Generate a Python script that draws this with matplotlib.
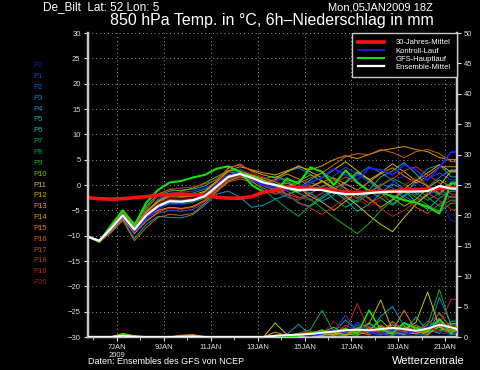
import numpy as np
import matplotlib
matplotlib.use("Agg")
import matplotlib.pyplot as plt

plt.rcParams['font.family'] = ['Liberation Sans', 'DejaVu Sans']

# time axis: hours after 05JAN2009 18Z, 12h steps
hours = np.arange(0, 385, 12)

# 850 hPa temperature (deg C), ensemble members P0..P20
t_members = [
    [-10.2, -11.1, -8.9, -6.3, -9.3, -6.6, -4.8, -3.8, -3.9, -3.4, -2.6, -0.8, 1.2, 2.0, 1.5, 0.8, 0.2, -0.5, -1.5, -2.3, -1.8, -0.6, 0.4, -1.0, -2.5, -1.8, 0.5, 1.8, 0.6, -1.5, -3.0, -7.0, -7.5],
    [-10.1, -10.9, -8.4, -5.8, -8.5, -5.6, -2.8, -1.6, -1.4, -1.2, -0.6, 0.6, 2.6, 3.2, 2.0, 1.0, 0.8, 1.5, 0.2, -1.2, -0.4, 1.8, 3.5, 2.2, 0.6, -1.0, -2.4, -1.5, 0.3, 1.2, 2.4, 1.0, 1.0],
    [-10.3, -11.2, -9.0, -6.6, -9.5, -6.9, -5.6, -5.0, -5.2, -4.8, -3.6, -1.0, 1.0, 1.8, 1.0, -0.2, -1.2, -2.4, -3.0, -1.8, -0.2, -1.0, -2.6, -3.4, -1.6, 0.2, -0.6, -2.2, -3.6, -2.0, -0.8, -2.5, -2.5],
    [-10.2, -11.0, -8.3, -5.5, -8.2, -5.3, -3.0, -1.8, -2.0, -1.6, -0.8, 0.2, 2.0, 2.4, 1.1, 0.3, 1.2, 2.6, 3.4, 2.1, 0.8, -0.5, 0.5, 2.0, 3.6, 2.4, 1.0, -0.8, -2.0, -0.4, 1.5, 3.0, 3.0],
    [-10.2, -11.3, -9.3, -6.8, -10.6, -7.8, -6.2, -6.4, -6.5, -5.8, -4.0, -1.8, -1.2, -2.4, -4.4, -4.0, -2.8, -2.0, -0.8, -1.6, -3.2, -2.0, 0.4, 2.4, 1.0, -1.4, -3.8, -2.0, 0.8, 3.2, 4.0, 1.6, 1.6],
    [-10.1, -10.9, -8.6, -5.9, -8.7, -5.8, -3.9, -2.9, -3.0, -2.8, -2.0, -0.2, 1.8, 2.6, 1.8, 0.9, -0.2, -1.8, -3.6, -4.2, -2.6, -1.2, -3.0, -5.2, -3.8, -1.6, 0.2, -1.0, -3.4, -4.8, -2.6, -1.2, -1.2],
    [-10.2, -10.9, -8.2, -5.2, -8.0, -4.6, -2.2, -1.2, -1.0, -0.8, -0.2, 1.2, 2.6, 2.2, 1.6, 1.2, 1.8, 0.8, -0.6, 1.0, 2.4, 1.2, -0.8, -2.6, -1.0, 1.6, 2.8, 4.4, 2.2, -0.4, -2.0, 0.6, 0.6],
    [-10.3, -11.1, -8.5, -6.0, -8.9, -6.1, -4.3, -3.3, -3.4, -3.1, -2.3, -0.4, 1.5, 2.3, 1.3, 0.4, -0.8, -2.0, -1.0, 0.6, -0.6, -2.8, -4.4, -3.0, -1.2, -2.6, -4.0, -2.2, -0.6, -2.4, -4.2, -3.0, -3.0],
    [-10.2, -11.0, -8.8, -6.2, -9.1, -6.4, -4.6, -3.6, -3.7, -3.4, -2.6, -0.7, 1.3, 2.0, 0.8, -1.0, -2.8, -4.6, -6.2, -4.0, -2.2, -0.8, -2.0, -3.4, -1.8, 0.0, 1.4, 0.2, -1.6, -3.0, -1.6, -2.4, -2.4],
    [-10.1, -11.0, -8.6, -6.0, -8.8, -5.9, -4.0, -3.0, -3.1, -2.8, -2.0, -0.1, 1.9, 2.5, 1.7, 0.7, 0.0, -0.8, -1.6, -2.8, -4.6, -6.4, -8.0, -9.6, -7.6, -5.0, -3.0, -1.2, -2.4, -4.0, -5.2, -3.6, -3.6],
    [-10.2, -11.0, -8.1, -5.0, -7.6, -4.2, -1.8, -0.9, -1.2, -0.6, 0.4, 1.6, 2.8, 2.8, 2.0, 1.4, 0.6, -0.4, 0.8, 2.0, 0.8, -1.0, 0.6, 2.6, 1.2, -0.8, -2.6, -4.2, -2.8, -0.6, 1.0, -0.4, -0.4],
    [-10.3, -11.0, -8.6, -6.1, -8.8, -6.0, -4.2, -3.2, -3.3, -3.0, -2.2, -0.4, 1.6, 2.4, 1.8, 1.0, 0.2, -0.6, -1.4, -0.4, 0.8, -0.6, -2.2, -4.0, -6.0, -7.8, -9.2, -6.4, -3.8, -1.8, -0.2, 2.8, 2.8],
    [-10.2, -10.9, -8.3, -5.6, -8.3, -5.2, -3.2, -2.0, -2.2, -2.0, -1.2, 0.8, 3.4, 4.0, 2.8, 2.0, 1.4, 2.6, 3.8, 2.6, 1.4, 3.0, 4.6, 2.8, 1.0, 2.4, 4.2, 2.6, 0.8, 2.4, 4.0, 2.6, 2.6],
    [-10.1, -11.0, -8.7, -6.2, -9.0, -6.2, -5.0, -4.4, -4.7, -4.2, -3.0, -0.5, 1.5, 2.3, 1.5, 0.6, -0.2, 0.4, -0.6, -2.2, -3.4, -5.0, -3.2, -1.4, -2.6, -4.4, -2.8, -0.8, 1.0, -0.2, -1.6, 0.2, 0.2],
    [-10.2, -11.0, -8.4, -5.8, -8.5, -5.5, -3.4, -2.3, -2.4, -2.2, -1.4, 0.5, 2.8, 3.6, 3.0, 2.4, 2.0, 2.8, 3.6, 3.0, 3.8, 5.0, 5.8, 5.2, 6.0, 6.8, 7.2, 7.6, 7.0, 6.6, 5.4, 5.0, 5.0],
    [-10.3, -11.2, -9.1, -6.6, -9.6, -7.2, -5.4, -4.4, -4.6, -4.4, -3.2, -1.2, 0.8, 1.6, 1.0, 0.4, 1.0, 2.2, 1.2, -0.4, 0.6, 1.4, 0.2, -1.0, 0.6, 2.2, 3.4, 1.8, 0.4, 1.8, 3.6, 3.6, 3.6],
    [-10.2, -11.3, -9.4, -7.0, -11.0, -8.4, -6.4, -5.8, -6.0, -5.6, -3.6, -1.4, 0.6, 1.2, 0.6, -0.6, -1.8, -0.8, 0.4, 1.4, 2.4, 4.0, 5.6, 6.2, 6.0, 7.0, 6.4, 5.4, 6.6, 7.0, 6.2, 4.6, 4.6],
    [-10.2, -11.0, -8.6, -5.9, -8.7, -5.9, -4.0, -3.0, -3.2, -2.9, -2.1, -0.2, 1.7, 2.3, 1.2, 0.0, -1.0, -1.8, -2.6, -1.6, -0.4, 1.0, -0.6, -2.0, -3.6, -2.4, -1.0, -2.6, -4.4, -5.6, -3.8, -2.2, -2.2],
    [-10.1, -10.9, -8.2, -5.5, -8.1, -5.0, -2.0, -0.8, -0.6, -0.4, 0.2, 1.0, 3.2, 4.2, 2.6, 1.2, 0.0, -1.2, -2.4, -3.0, -1.6, 0.2, 1.6, 0.4, -1.2, -0.2, 1.2, 2.8, 3.6, 2.0, 0.4, -1.8, -1.8],
    [-10.2, -11.1, -8.8, -6.3, -9.2, -6.5, -5.2, -4.6, -4.8, -4.4, -3.2, -0.9, 1.1, 1.8, 1.0, 0.2, -0.6, -2.0, -3.4, -4.6, -5.8, -4.2, -2.6, -1.0, -2.8, -4.6, -6.2, -5.0, -3.2, -1.6, -3.0, -4.8, -4.8],
    [-10.2, -11.0, -8.5, -5.9, -8.6, -5.7, -3.7, -2.7, -2.8, -2.6, -1.8, 0.3, 2.4, 3.0, 2.2, 1.6, 0.8, 0.0, -1.0, 0.2, 1.6, 0.6, -1.2, -2.8, -4.2, -3.0, -1.6, 0.0, 1.4, 0.0, -1.4, -3.2, -3.2],
]
t_control = [-10.2, -11.0, -8.8, -6.2, -9.2, -6.5, -4.6, -3.2, -3.5, -3.0, -2.0, 0.0, 1.8, 2.5, 1.2, 0.0, -0.5, -1.0, -0.5, 0.5, 1.5, 3.2, 2.0, 1.0, 3.3, 3.0, 2.0, 4.0, 3.0, 1.0, 3.5, 6.5, 6.5]
t_main = [-10.0, -11.2, -8.0, -5.0, -8.0, -3.5, -1.0, 0.5, 0.8, 1.5, 2.0, 3.2, 3.7, 2.6, 0.0, -1.4, -1.2, 1.2, 0.3, 3.5, 2.6, 0.0, 2.9, 0.5, -1.2, -1.5, -2.2, -3.0, -3.5, -4.3, -5.6, 0.3, 0.3]
t_mean = [-10.2, -11.0, -8.6, -6.0, -8.8, -6.0, -4.2, -3.2, -3.3, -3.0, -2.2, -0.3, 1.6, 2.2, 1.4, 0.5, 0.0, -0.6, -1.0, -0.9, -1.0, -1.5, -1.8, -1.8, -1.6, -1.4, -1.3, -1.3, -1.3, -1.2, -0.2, -0.7, -0.8]
t_climate = [-2.5, -2.7, -2.8, -2.7, -2.5, -2.3, -2.0, -1.9, -1.8, -1.9, -2.0, -2.4, -2.6, -2.6, -2.3, -1.4, -1.1, -0.4, -0.5, -0.7, -0.8, -1.1, -1.4, -1.5, -1.4, -1.3, -1.2, -1.0, -0.9, -0.8, -0.7, -0.6, -0.6]

# 6h precipitation (mm), members P0..P20
p_members = [
    [0, 0, 0, 0, 0, 0, 0, 0, 0, 0, 0, 0, 0, 0, 0, 0, 0, 0.1, 0.2, 0.3, 0.5, 0.2, 0.8, 1.4, 0.6, 0.3, 1.0, 0.4, 0.2, 1.8, 2.6, 0.9, 0.9],
    [0, 0, 0, 0, 0, 0, 0, 0, 0, 0, 0, 0, 0, 0, 0, 0, 0, 0, 0.3, 0.2, 0.6, 1.0, 3.6, 0.8, 0.4, 1.2, 0.6, 0.3, 0.8, 1.4, 0.7, 0.4, 0.4],
    [0, 0, 0, 0, 0, 0, 0, 0, 0, 0, 0, 0, 0, 0, 0, 0, 0, 0, 0, 0.2, 0.4, 0.3, 1.2, 0.5, 1.8, 0.6, 0.2, 1.1, 0.5, 0.3, 2.2, 1.0, 1.0],
    [0, 0, 0, 0, 0, 0, 0, 0, 0, 0, 0, 0, 0, 0, 0, 0, 0, 0, 0.2, 0.4, 0.2, 0.8, 0.3, 1.6, 0.7, 0.4, 2.4, 0.9, 1.2, 0.6, 6.5, 2.0, 2.0],
    [0, 0, 0, 0, 0, 0, 0, 0, 0, 0, 0, 0, 0, 0, 0, 0, 0.1, 0.4, 2.1, 0.3, 0.5, 0.8, 2.8, 1.0, 0.6, 3.4, 5.0, 1.8, 0.8, 1.2, 0.6, 2.6, 2.6],
    [0, 0, 0, 0, 0, 0, 0, 0, 0, 0, 0, 0, 0, 0, 0, 0, 0, 0, 0.2, 0.8, 0.3, 0.4, 1.4, 0.6, 2.2, 0.8, 1.6, 0.9, 3.3, 1.0, 2.2, 0.8, 0.8],
    [0, 0, 0, 0, 0, 0, 0, 0, 0, 0, 0, 0, 0, 0, 0, 0, 0, 0.1, 0, 0.3, 0.6, 0.4, 0.2, 1.2, 0.5, 1.6, 0.7, 2.4, 0.6, 0.9, 4.0, 1.4, 1.4],
    [0, 0, 0, 0.3, 0.1, 0, 0, 0, 0, 0, 0, 0, 0, 0, 0, 0, 0, 0.2, 0.6, 1.2, 4.4, 0.8, 0.3, 0.6, 1.5, 0.4, 1.2, 0.5, 2.0, 0.8, 1.6, 0.5, 0.5],
    [0, 0, 0, 0.3, 0.1, 0, 0, 0, 0, 0, 0, 0, 0, 0, 0, 0, 0, 0, 0.3, 0.5, 1.0, 0.6, 0.4, 2.0, 0.8, 1.6, 0.5, 1.9, 0.7, 2.6, 1.2, 0.6, 0.6],
    [0, 0, 0, 0, 0, 0, 0, 0, 0, 0, 0, 0, 0, 0, 0, 0, 0, 0, 0.2, 0.2, 0.6, 0.3, 1.0, 0.5, 2.4, 1.0, 0.4, 1.4, 0.8, 2.0, 7.8, 1.8, 1.8],
    [0, 0, 0, 0.5, 0.2, 0, 0, 0, 0, 0, 0, 0, 0, 0, 0, 0, 0, 0.3, 0.1, 0.4, 0.8, 1.6, 0.5, 0.3, 1.1, 2.8, 0.9, 0.4, 1.6, 1.0, 3.0, 1.2, 1.2],
    [0, 0, 0, 0, 0, 0, 0, 0, 0, 0, 0, 0, 0, 0, 0, 0, 2.3, 0.4, 0.2, 0.6, 0.3, 0.9, 0.4, 1.2, 0.6, 1.8, 0.8, 1.2, 2.4, 7.4, 1.6, 0.9, 0.9],
    [0, 0, 0, 0, 0, 0, 0, 0, 0, 0, 0, 0, 0, 0, 0, 0, 0.8, 0.2, 0.3, 0.5, 1.2, 0.4, 0.7, 1.4, 2.2, 6.1, 1.0, 0.6, 1.3, 0.8, 2.8, 1.0, 1.0],
    [0, 0, 0, 0, 0, 0, 0, 0, 0.2, 0.3, 0, 0, 0, 0, 0, 0, 0, 0.2, 0.5, 0.3, 0.4, 1.0, 0.6, 0.8, 0.4, 1.2, 2.0, 0.8, 0.5, 1.6, 1.0, 2.2, 2.2],
    [0, 0, 0, 0.6, 0.2, 0, 0, 0, 0, 0, 0, 0, 0, 0, 0, 0, 0, 0.1, 0.4, 1.0, 0.6, 0.3, 0.9, 0.6, 1.4, 0.8, 0.5, 1.6, 0.9, 0.4, 1.8, 0.7, 0.7],
    [0, 0, 0, 0.5, 0.1, 0, 0, 0, 0.3, 0.4, 0, 0, 0, 0, 0, 0, 0, 0.2, 0.6, 0.4, 0.9, 0.5, 1.3, 0.8, 0.6, 1.5, 1.1, 4.4, 1.0, 0.7, 2.4, 1.1, 1.1],
    [0, 0, 0, 0.2, 0, 0, 0, 0, 0.2, 0.3, 0.1, 0, 0, 0, 0, 0, 0, 0, 0.3, 0.7, 0.4, 1.1, 0.5, 0.9, 1.6, 0.6, 1.3, 0.8, 1.9, 0.9, 2.0, 0.6, 0.6],
    [0, 0, 0, 0, 0, 0, 0, 0, 0, 0, 0, 0, 0, 0, 0, 0, 0.3, 0.5, 0.2, 0.9, 0.5, 0.7, 1.5, 0.6, 1.0, 0.8, 2.6, 1.0, 0.7, 1.4, 1.9, 1.3, 1.3],
    [0, 0, 0, 0, 0, 0, 0, 0, 0, 0, 0, 0, 0, 0, 0, 0, 0, 0.2, 0.4, 0.3, 1.0, 0.6, 1.9, 1.1, 0.5, 2.0, 0.9, 1.5, 0.6, 2.2, 3.8, 1.6, 1.6],
    [0, 0, 0, 0, 0, 0, 0, 0, 0, 0, 0, 0, 0, 0, 0, 0, 0, 0.1, 0.3, 0.6, 0.8, 1.2, 1.0, 5.5, 1.2, 0.7, 1.5, 0.8, 1.1, 0.9, 2.0, 6.2, 6.2],
    [0, 0, 0, 0, 0, 0, 0, 0, 0, 0, 0, 0, 0, 0, 0, 0, 0, 0.2, 0.5, 1.0, 0.6, 2.6, 0.8, 1.3, 0.5, 0.9, 0.6, 1.2, 0.8, 1.5, 1.0, 0.6, 0.6],
]
p_control = [0, 0, 0, 0, 0, 0, 0, 0, 0, 0, 0, 0, 0, 0, 0, 0, 0, 0.1, 0.3, 0.2, 0.5, 1.2, 0.6, 2.4, 0.8, 0.5, 1.1, 0.6, 0.9, 1.6, 2.2, 0.8, 0.8]
p_main = [0, 0, 0, 0.4, 0.1, 0, 0, 0, 0, 0, 0, 0, 0, 0, 0, 0, 0, 0, 0.2, 0.6, 1.0, 0.7, 1.4, 0.5, 4.4, 1.2, 0.6, 2.3, 1.5, 0.8, 3.0, 0.5, 3.0]
p_mean = [0, 0, 0, 0.2, 0.05, 0, 0, 0, 0.05, 0.1, 0, 0, 0, 0, 0, 0, 0.2, 0.3, 0.4, 0.5, 0.7, 0.9, 1.1, 1.2, 1.1, 1.3, 1.5, 1.3, 1.0, 1.4, 2.0, 1.6, 1.0]

member_names = ['P%d' % i for i in range(21)]
member_colors = ['#1414c8', '#1e3cdc', '#1464dc', '#0a82d2', '#00a0c8', '#00b4b4', '#00c096',
                 '#00b464', '#00a03c', '#14b414', '#64c800', '#c8c800', '#d2b400', '#dca000',
                 '#e69600', '#e68200', '#d26400', '#d24b00', '#d2321e', '#c81e1e', '#a01414']

tick_hours = [30, 78, 126, 174, 222, 270, 318, 366]
tick_labels = ['7JAN\n2009', '9JAN', '11JAN', '13JAN', '15JAN', '17JAN', '19JAN', '21JAN']
legend_labels = ['30-Jahres-Mittel', 'Kontroll-Lauf', 'GFS-Hauptlauf', 'Ensemble-Mittel']

W, H = 480, 370
fig = plt.figure(figsize=(4.8, 3.7), dpi=100, facecolor='black')
ax = fig.add_axes([87.5 / W, 33 / H, 369.5 / W, 304 / H], facecolor='black')
ax2 = ax.twinx()

for vals, c in zip(t_members, member_colors):
    ax.plot(hours, vals, color=c, lw=0.7, zorder=2)
for vals, c in zip(p_members, member_colors):
    ax2.plot(hours, vals, color=c, lw=0.7, zorder=2)

l_clim, = ax.plot(hours, t_climate, color='#ff1010', lw=2.6, zorder=4)
l_ctrl, = ax.plot(hours, t_control, color='#2020ff', lw=1.2, zorder=3)
l_main, = ax.plot(hours, t_main, color='#10e010', lw=1.5, zorder=3)
l_mean, = ax.plot(hours, t_mean, color='white', lw=1.6, zorder=5)
ax2.plot(hours, p_control, color='#2020ff', lw=1.0, zorder=3)
ax2.plot(hours, p_main, color='#10e010', lw=1.2, zorder=3)
ax2.plot(hours, p_mean, color='white', lw=1.4, zorder=5)

ax.set_xlim(0, 378)
ax.set_ylim(-30, 30)
ax2.set_ylim(0, 50)
ax.set_yticks(np.arange(-30, 31, 5))
ax2.set_yticks(np.arange(0, 51, 5))
ax.set_xticks(tick_hours)
ax.set_xticklabels(tick_labels)
ax.set_xticks(np.arange(6, 378, 24), minor=True)

ax.grid(True, color='#9a9a9a', linestyle=(0, (1, 3)), lw=0.7)
ax.tick_params(axis='both', colors='#e0e0e0', labelsize=5.5, length=3, width=0.8, pad=2)
ax.tick_params(axis='x', which='minor', colors='#e0e0e0', length=2, width=0.6)
ax2.tick_params(axis='y', colors='#e0e0e0', labelsize=5.5, length=3, width=0.8, pad=2)
for a in (ax, ax2):
    a.spines['top'].set_visible(False)
    for s in ('left', 'right', 'bottom'):
        a.spines[s].set_color('#c8c8c8')
        a.spines[s].set_linewidth(1.6)

leg = ax2.legend([l_clim, l_ctrl, l_main, l_mean], legend_labels, loc='upper right',
                 fontsize=5.5, frameon=True, facecolor='black', edgecolor='#c8c8c8',
                 framealpha=1, fancybox=False, borderaxespad=0, handlelength=3.4,
                 labelspacing=0.1, borderpad=0.8, handletextpad=1.5, labelcolor='white')
leg.get_frame().set_linewidth(1.0)
leg.set_zorder(10)

def px(x, y):
    return x / W, 1 - y / H

fig.text(*px(43, 7), 'De_Bilt  Lat: 52 Lon: 5', color='white', fontsize=8.5, va='center', ha='left')
fig.text(*px(433, 7), 'Mon,05JAN2009 18Z', color='white', fontsize=8, va='center', ha='right')
fig.text(*px(272, 20), '850 hPa Temp. in °C, 6h\u2013Niederschlag in mm', color='white',
         fontsize=11.5, va='center', ha='center')
fig.text(*px(88, 362), 'Daten: Ensembles des GFS von NCEP', color='white', fontsize=6.5,
         va='center', ha='left')
fig.text(*px(465, 361), 'Wetterzentrale', color='white', fontsize=8, va='center', ha='right')

for i, (name, c) in enumerate(zip(member_names, member_colors)):
    fig.text(*px(33, 65.7 + 10.85 * i), name, color=c, fontsize=5.5, va='center', ha='left')

fig.savefig('out.png', dpi=100, facecolor='black')
